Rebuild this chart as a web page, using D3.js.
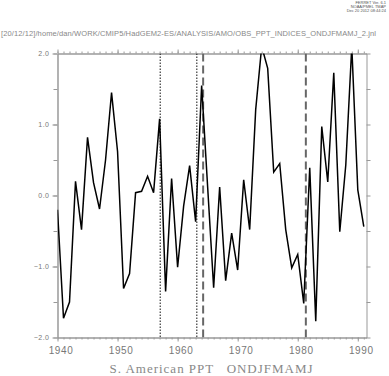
<!DOCTYPE html>
<meta charset="utf-8">
<script src="https://d3js.org/d3.v7.min.js"></script>
<style>
  body { margin: 0; background: #fff; }
  text { font-family: "Liberation Sans", sans-serif; fill: #777; }
</style>
<div id="my_dataviz"></div>
<script>
// yearly index values, 1940 - 1991
const years = d3.range(1940, 1992);
const ppt = [-0.20, -1.73, -1.50, 0.20, -0.48, 0.82, 0.18, -0.19, 0.50, 1.45,
             0.62, -1.31, -1.10, 0.04, 0.06, 0.27, 0.04, 1.08, -1.35, 0.24,
             -1.01, -0.15, 0.42, -0.37, 1.55, 0.12, -1.30, 0.12, -1.20, -0.53,
             -1.05, 0.22, -0.48, 1.21, 2.10, 1.79, 0.33, 0.45, -0.48, -1.02,
             -0.83, -1.52, 0.39, -1.77, 0.97, 0.19, 1.73, -0.51, 0.43, 2.10,
             0.08, -0.44];
// marker years
const dottedYears = [1957.1, 1963.2];
const dashedYears = [1964.25, 1981.35];
// tick labels
const yTicks = [-2, -1, 0, 1, 2];
const yMinor = [-2, -1.5, -1, -0.5, 0, 0.5, 1, 1.5, 2];
const xMajor = [1940, 1950, 1960, 1970, 1980, 1990];

const W = 389, H = 376;
const svg = d3.select("#my_dataviz")
  .append("svg")
  .attr("width", W)
  .attr("height", H);

const x = d3.scaleLinear().domain([1940, 1991.45]).range([57.5, 366.5]);
const y = d3.scaleLinear().domain([-2, 2]).range([337.5, 53.5]);

const axisColor = "#999";

// header stamp
const stamp = ["FERRET Ver. 6.1", "NOAA/PMEL TMAP", "Dec 20 2012 08:44:24"];
svg.append("g").selectAll("text")
  .data(stamp)
  .join("text")
    .attr("x", 386)
    .attr("y", (d, i) => 4 + i * 4)
    .attr("text-anchor", "end")
    .style("font-size", "4px")
    .style("fill", "#555")
    .text(d => d);

svg.append("text")
  .attr("x", 1)
  .attr("y", 36)
  .attr("textLength", 375)
  .attr("lengthAdjust", "spacing")
  .style("font-size", "7.5px")
  .style("fill", "#888")
  .text("[20/12/12]/home/dan/WORK/CMIP5/HadGEM2-ES/ANALYSIS/AMO/OBS_PPT_INDICES_ONDJFMAMJ_2.jnl");

function styleAxis(g) {
  g.selectAll("path, line").attr("stroke", axisColor);
  g.selectAll("text").style("fill", "#777");
}

// bottom axis: minor and major ticks
svg.append("g")
  .attr("transform", `translate(0,${y(-2)})`)
  .call(d3.axisBottom(x).tickValues(years).tickSize(2).tickSizeOuter(0).tickFormat(""))
  .call(styleAxis);
svg.append("g")
  .attr("transform", `translate(0,${y(-2)})`)
  .call(d3.axisBottom(x).tickValues(xMajor).tickSize(4).tickSizeOuter(0).tickFormat(d3.format("d")))
  .call(styleAxis)
  .call(g => g.selectAll("text")
    .attr("dx", 3).attr("y", 9)
    .style("font-size", "10px").style("letter-spacing", "0.6px"));

// top axis
svg.append("g")
  .attr("transform", `translate(0,${y(2)})`)
  .call(d3.axisTop(x).tickValues(years).tickSize(2).tickSizeOuter(0).tickFormat(""))
  .call(styleAxis);
svg.append("g")
  .attr("transform", `translate(0,${y(2)})`)
  .call(d3.axisTop(x).tickValues(xMajor).tickSize(4).tickSizeOuter(0).tickFormat(""))
  .call(styleAxis);

// left axis
svg.append("g")
  .attr("transform", `translate(${x.range()[0]},0)`)
  .call(d3.axisLeft(y).tickValues(yMinor).tickSize(4).tickSizeOuter(0).tickFormat(""))
  .call(styleAxis);
svg.append("g")
  .attr("transform", `translate(${x.range()[0]},0)`)
  .call(d3.axisLeft(y).tickValues(yTicks).tickSize(5).tickSizeOuter(0).tickFormat(d3.format(".1f")))
  .call(styleAxis)
  .call(g => g.selectAll("text")
    .attr("x", -8)
    .style("font-size", "7px").style("letter-spacing", "0.5px"));

// right axis
svg.append("g")
  .attr("transform", `translate(${x.range()[1]},0)`)
  .call(d3.axisRight(y).tickValues(yMinor).tickSize(4).tickSizeOuter(0).tickFormat(""))
  .call(styleAxis);

// clip to plot area
svg.append("clipPath").attr("id", "plotclip")
  .append("rect")
  .attr("x", x.range()[0]).attr("y", y(2))
  .attr("width", x.range()[1] - x.range()[0])
  .attr("height", y(-2) - y(2));

const plot = svg.append("g").attr("clip-path", "url(#plotclip)");

// vertical markers
plot.selectAll(".dotted")
  .data(dottedYears)
  .join("line")
    .attr("x1", d => x(d)).attr("x2", d => x(d))
    .attr("y1", y(2)).attr("y2", y(-2))
    .attr("stroke", "#111")
    .attr("stroke-width", 1)
    .attr("stroke-dasharray", "1.5,1.5");

plot.selectAll(".dashed")
  .data(dashedYears)
  .join("line")
    .attr("x1", d => x(d)).attr("x2", d => x(d))
    .attr("y1", y(2)).attr("y2", y(-2))
    .attr("stroke", "#666")
    .attr("stroke-width", 2)
    .attr("stroke-dasharray", "8,4");

// the index line
const line = d3.line()
  .x((d, i) => x(years[i]))
  .y(d => y(d));

plot.append("path")
  .datum(ppt)
  .attr("d", line)
  .attr("fill", "none")
  .attr("stroke", "#000")
  .attr("stroke-width", 1.5)
  .attr("stroke-linejoin", "miter");

// bottom title
svg.append("text")
  .attr("x", 211)
  .attr("y", 373)
  .attr("text-anchor", "middle")
  .attr("textLength", 203)
  .attr("lengthAdjust", "spacing")
  .style("white-space", "pre")
  .style("font-family", "'Liberation Serif', serif")
  .style("font-size", "13px")
  .style("fill", "#888")
  .text("S. American PPT   ONDJFMAMJ");
</script>
